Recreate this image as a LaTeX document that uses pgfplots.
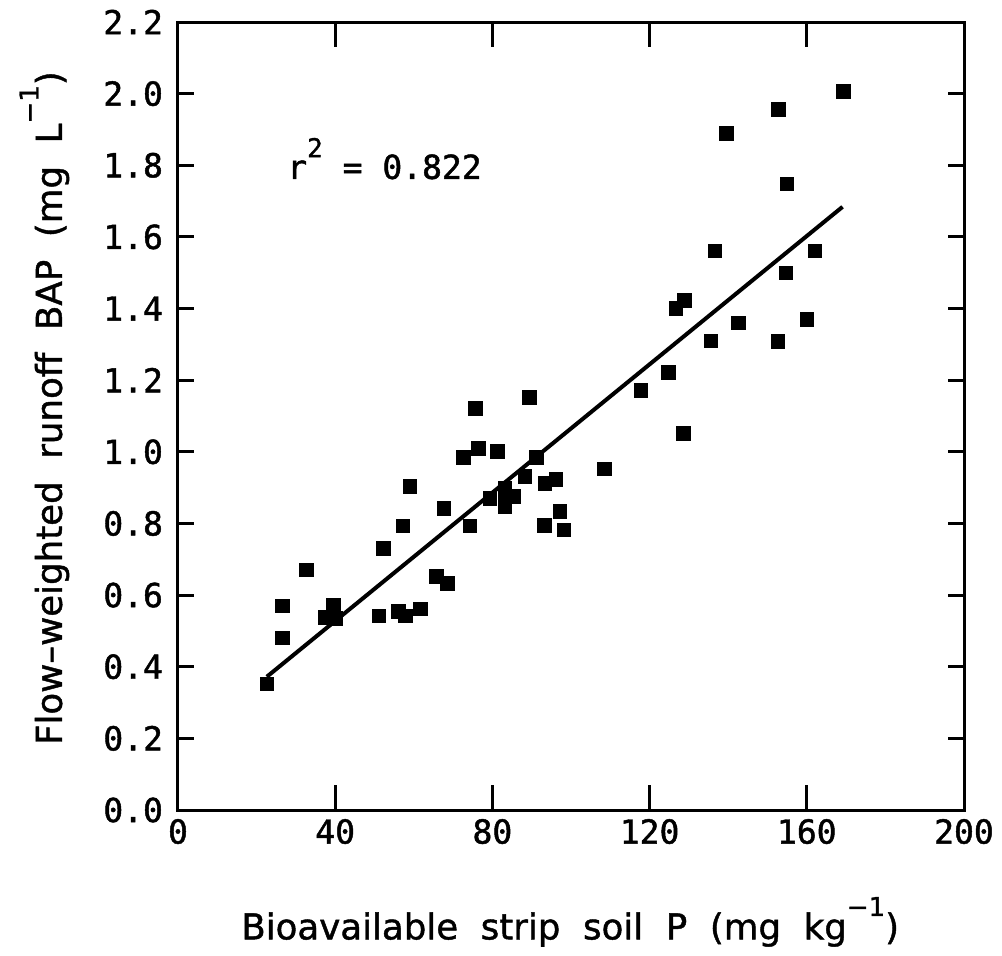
\documentclass[border=0pt]{standalone}
\usepackage{fontspec}
\setmainfont[FakeBold=1.2]{DejaVu Sans}
\newfontfamily\lblfont[WordSpace=2.0, FakeBold=1.2]{DejaVu Sans}
\newfontfamily\numfont[FakeBold=1.4]{DejaVu Sans Mono}
\usepackage{pgfplots}
\pgfplotsset{compat=1.18}
\usetikzlibrary{calc}
\begin{document}
\begin{tikzpicture}
\begin{axis}[
  name=ax,
  width=393pt, height=394pt, scale only axis,
  xmin=0, xmax=200, ymin=0, ymax=2.2,
  xtick={0,40,80,120,160,200},
  ytick={0,0.2,0.4,0.6,0.8,1.0,1.2,1.4,1.6,1.8,2.0,2.2},
  /pgf/number format/assume math mode=true,
  yticklabel style={/pgf/number format/fixed, /pgf/number format/fixed zerofill, /pgf/number format/precision=1, xshift=-4pt},
  xticklabel style={yshift=-1pt},
  tick label style={font=\numfont\fontsize{16.5}{19}\selectfont},
  tick align=inside, tick pos=both,
  axis line style={line width=1.5pt},
  every tick/.style={black, line width=1.5pt},
  xtick style={/pgfplots/major tick length=12.5pt},
  ytick style={/pgfplots/major tick length=8pt},
  xlabel={\lblfont Bioavailable strip soil P (mg kg\raisebox{1.2ex}{\fontsize{13}{15}\selectfont −1})},
  ylabel={\lblfont Flow–weighted runoff BAP (mg L\raisebox{1.2ex}{\fontsize{13}{15}\selectfont −1})},
  label style={font=\fontsize{17.8}{20}\selectfont},
  xlabel style={at={(axis description cs:0.499,-0.142)}, anchor=center},
  ylabel style={at={(axis description cs:-0.17,0.51)}, anchor=center},
  clip=false,
]
\addplot[only marks, mark=square*, mark size=3.4pt, black] coordinates {
(22.6,0.352) (26.6,0.570) (26.6,0.481) (32.7,0.670) (39.5,0.572) (37.4,0.538)
(40.0,0.535) (51.1,0.542) (52.2,0.731) (56.1,0.554) (57.9,0.542) (61.7,0.562)
(65.8,0.653) (68.5,0.633)
(89.4,1.152) (75.6,1.121) (76.4,1.010) (81.3,1.002) (72.6,0.984) (91.2,0.984)
(59.0,0.903) (88.3,0.932) (93.4,0.912) (96.2,0.923) (83.2,0.898) (79.4,0.870)
(83.2,0.875) (85.3,0.875) (83.2,0.847) (67.7,0.842) (57.2,0.793) (74.3,0.793)
(93.2,0.794) (97.2,0.833) (98.2,0.782)
(124.8,1.221) (117.8,1.171) (128.6,1.052) (108.5,0.952)
(169.3,2.007) (152.7,1.956) (139.6,1.889) (154.9,1.748) (136.6,1.561) (162.1,1.561)
(154.7,1.500) (128.8,1.422) (126.7,1.400) (142.6,1.360) (160.0,1.369) (135.6,1.310)
(152.6,1.309)
};
\addplot[black, line width=2pt] coordinates {(22.6,0.372) (169.1,1.684)};
\node[anchor=base west, font=\numfont\fontsize{16.5}{19}\selectfont, inner sep=0pt] at (axis cs:27.7,1.762)
  {r\raisebox{1.2ex}{\fontsize{13}{15}\selectfont 2} = 0.822};
\end{axis}
\path ($(ax.south west)+(-89pt,-72.5pt)$) rectangle ($(ax.north east)+(19pt,11pt)$);
\end{tikzpicture}
\end{document}
